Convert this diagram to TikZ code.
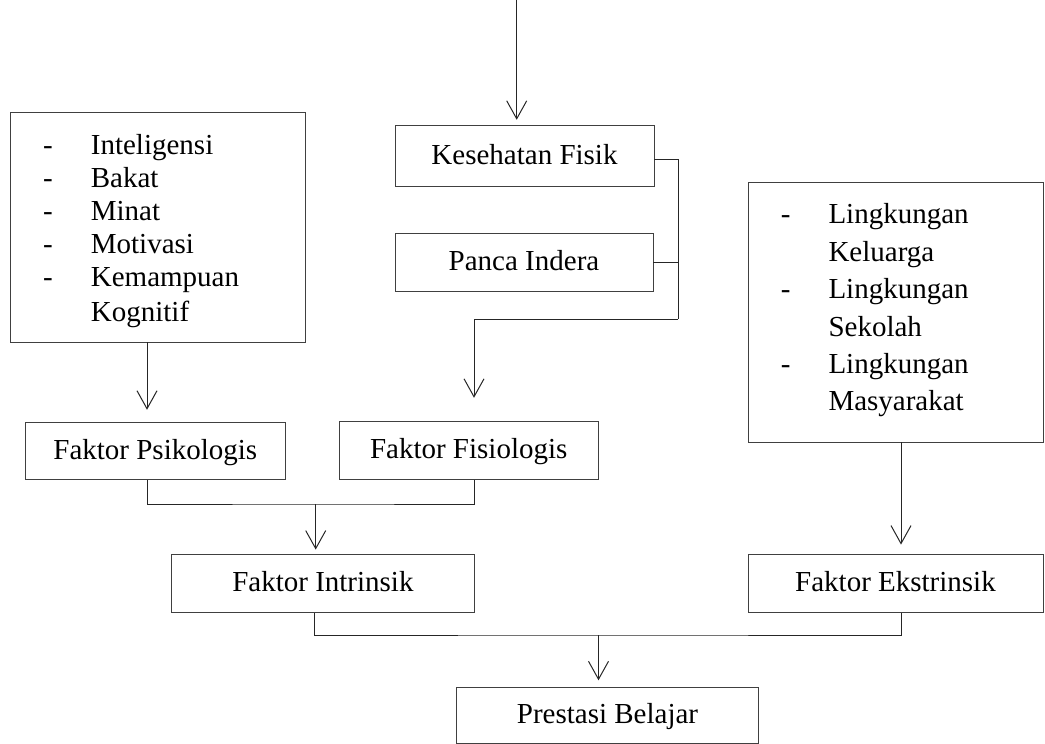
\documentclass[tikz,border=0pt]{standalone}
\usepackage{fontspec}
\setmainfont{Liberation Serif}
\usetikzlibrary{arrows.meta}
\begin{document}
\begin{tikzpicture}[x=1pt,y=-1pt,
  every node/.style={font=\fontsize{29}{33}\selectfont},
  box/.style={draw=black!75, line width=0.8pt, rectangle, inner sep=0pt,
              text height=20pt, text depth=4pt},
  item/.style={anchor=base west, inner sep=0pt},
  conn/.style={draw=black!85, line width=1pt},
  arr/.style={conn, -{Straight Barb[length=18pt,width=20pt,line width=1pt]}}]
\useasboundingbox (0,0) rectangle (1045,744);

% boxes
\node[box, minimum width=259pt, minimum height=61pt] (kes) at (524.5,156.2) {Kesehatan Fisik};
\node[box, minimum width=258pt, minimum height=58pt] (panca) at (524,262) {Panca Indera};
\node[box, minimum width=295pt, minimum height=230pt] (lbox) at (157.5,227) {};
\node[box, minimum width=259.3pt, minimum height=57.7pt] (psy) at (155.3,451) {Faktor Psikologis};
\node[box, minimum width=259.3pt, minimum height=57.6pt] (fis) at (468.7,450.5) {Faktor Fisiologis};
\node[box, minimum width=302.3pt, minimum height=58.4pt] (intr) at (322.9,583.5) {Faktor Intrinsik};
\node[box, minimum width=295pt, minimum height=260pt] (rbox) at (895.5,312) {};
\node[box, minimum width=295pt, minimum height=58pt] (eks) at (895.5,583.3) {Faktor Ekstrinsik};
\node[box, minimum width=302.5pt, minimum height=55.6pt] (pres) at (607.5,715.5) {Prestasi Belajar};

% left list
\node[item] (ld1) at (43,154.3) {-};
\node[item] (lt1) at (90.7,154.3) {Inteligensi};
\node[item] (ld2) at (43,187.3) {-};
\node[item] (lt2) at (90.7,187.3) {Bakat};
\node[item] (ld3) at (43,220) {-};
\node[item] (lt3) at (90.7,220) {Minat};
\node[item] (ld4) at (43,253.3) {-};
\node[item] (lt4) at (90.7,253.3) {Motivasi};
\node[item] (ld5) at (43,286.7) {-};
\node[item] (lt5) at (90.7,286.7) {Kemampuan};
\node[item] (lt6) at (90.7,321.7) {Kognitif};

% right list
\node[item] (rd1) at (780.7,223.3) {-};
\node[item] (rt1) at (828.3,223.3) {Lingkungan};
\node[item] (rt2) at (828.3,261.7) {Keluarga};
\node[item] (rd2) at (780.7,298.3) {-};
\node[item] (rt3) at (828.3,298.3) {Lingkungan};
\node[item] (rt4) at (828.3,336.7) {Sekolah};
\node[item] (rd3) at (780.7,373.3) {-};
\node[item] (rt5) at (828.3,373.3) {Lingkungan};
\node[item] (rt6) at (828.3,410) {Masyarakat};

% connectors
\coordinate (top) at (516.7,0);
\draw[arr, shorten >=5.5pt] (top) -- (top |- kes.north);

\draw[arr, shorten >=12pt] ([xshift=-10.5pt]lbox.south) -- ([xshift=-10.5pt]lbox.south |- psy.north);

\coordinate (j1) at (678,319);
\draw[conn] ([yshift=-3.5pt]kes.east) -| (j1);
\draw[conn] (panca.east) -- (panca.east -| j1);
\draw[arr, shorten >=23.5pt] (j1) -| ([xshift=5.3pt]fis.north);

\coordinate (j2) at (315.7,504);
\draw[conn] ([xshift=-7.6pt]psy.south) |- (j2) -| ([xshift=5.3pt]fis.south);
\draw[arr, shorten >=4.3pt] (j2) -- (j2 |- intr.north);

\draw[arr, shorten >=9.3pt] ([xshift=5.5pt]rbox.south) -- ([xshift=5.5pt]rbox.south |- eks.north);

\coordinate (j3) at (598.5,635);
\draw[conn] ([xshift=-8.4pt]intr.south) |- (j3) -| ([xshift=6.2pt]eks.south);
\draw[arr, shorten >=7pt] (j3) -- (j3 |- pres.north);
\end{tikzpicture}
\end{document}
